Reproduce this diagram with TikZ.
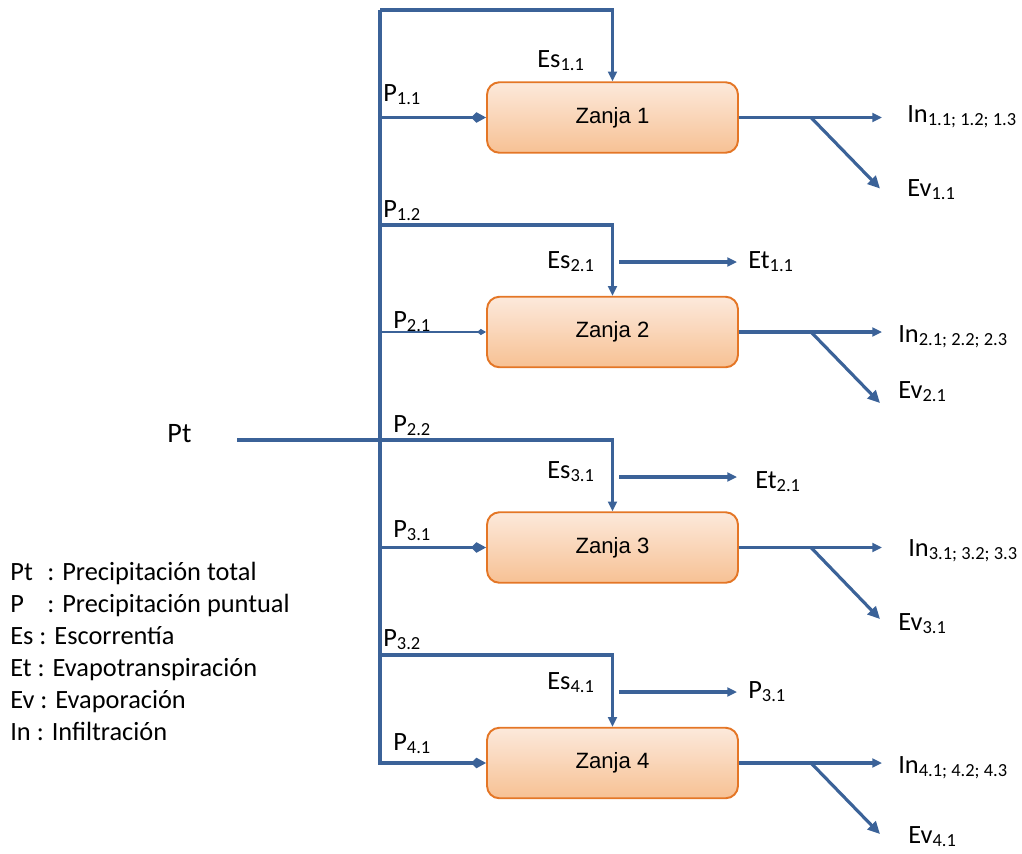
\documentclass[tikz,border=0pt]{standalone}
\usepackage{fontspec}
\usepackage{tikz}
\usetikzlibrary{arrows.meta,positioning}
\newfontfamily\labfont{Carlito}
\newfontfamily\boxfont{Liberation Sans}
\definecolor{flowblue}{RGB}{59,98,152}
\definecolor{zanjaedge}{RGB}{228,118,38}
\definecolor{zanjatop}{RGB}{252,233,219}
\definecolor{zanjabot}{RGB}{247,193,148}

\begin{document}
\begin{tikzpicture}[x=0.02cm,y=-0.02cm,
  zanja/.style={rectangle,rounded corners=7pt,draw=zanjaedge,line width=1.1pt,
                top color=zanjatop,bottom color=zanjabot,minimum width=5.02cm,
                minimum height=1.41cm,font=\boxfont\fontsize{12.6}{15}\selectfont},
  fl/.style={line width=1.8pt,flowblue},
  ar/.style={fl,-{Triangle[length=5.5pt,width=5pt]}},
  arev/.style={fl,-{Triangle[length=7pt,width=6.5pt]}},
  pin/.style={fl,-{Kite[length=8.5pt,width=6pt,inset=3pt]}},
  pinthin/.style={line width=0.9pt,flowblue,-{Kite[length=5pt,width=3.5pt,inset=2pt]}},
  lab/.style={font=\labfont\fontsize{15}{17}\selectfont,inner sep=0pt,anchor=base west}
]
\useasboundingbox (0,0) rectangle (1022,853);

% zanjas
\node[zanja] (z1) at (612.5,117.5) {Zanja 1};
\node[zanja] (z2) at (612.5,332)   {Zanja 2};
\node[zanja] (z3) at (612.5,547.5) {Zanja 3};
\node[zanja] (z4) at (612.5,763)   {Zanja 4};

% tronco de precipitacion
\coordinate (t0) at (380,10);
\coordinate (tb) at (380,765);
\coordinate (pt0) at (237,440);
\coordinate (e2) at (380,225);
\coordinate (e4) at (380,655);
\coordinate (p1) at (380,117.5);
\coordinate (p2) at (380,332);
\coordinate (p3) at (380,547.5);
\coordinate (p4) at (380,763);

\draw[fl] (t0) -- (tb);
\draw[ar] (t0) -| (z1.north);
\draw[ar] (e2) -| (z2.north);
\draw[ar] (pt0) -| (z3.north);
\draw[ar] (e4) -| (z4.north);

\draw[pin] (p1) -- (z1);
\draw[pinthin] (p2) -- (z2);
\draw[pin] (p3) -- (z3);
\draw[pin] (p4) -- (z4);

% salidas laterales (Et, P)
\coordinate (s2) at (619,262);   \coordinate (s2e) at (737,262);
\coordinate (s3) at (619,477);   \coordinate (s3e) at (737,477);
\coordinate (s4) at (619,692);   \coordinate (s4e) at (737,692);
\draw[ar] (s2) -- (s2e);
\draw[ar] (s3) -- (s3e);
\draw[ar] (s4) -- (s4e);

% infiltracion y evaporacion
\coordinate (in1) at (882,117.5); \coordinate (b1) at (811,117.5); \coordinate (ev1) at (880,188.5);
\coordinate (in2) at (882,332);   \coordinate (b2) at (811,332);   \coordinate (ev2) at (880,403);
\coordinate (in3) at (882,547.5); \coordinate (b3) at (811,547.5); \coordinate (ev3) at (880,619);
\coordinate (in4) at (882,763);   \coordinate (b4) at (811,763);   \coordinate (ev4) at (880,834);
\draw[ar] (z1.east) -- (in1);  \draw[arev] (b1) -- (ev1);
\draw[ar] (z2.east) -- (in2);  \draw[arev] (b2) -- (ev2);
\draw[ar] (z3.east) -- (in3);  \draw[arev] (b3) -- (ev3);
\draw[ar] (z4.east) -- (in4);  \draw[arev] (b4) -- (ev4);

% etiquetas
\node[lab,font=\labfont\fontsize{16}{18}\selectfont] (lpt) at (167,442) {Pt};
\node[lab] (lp11) at (383,101) {P\textsubscript{1.1}};
\node[lab] (lp12) at (383,217) {P\textsubscript{1.2}};
\node[lab] (lp21) at (393,328) {P\textsubscript{2.1}};
\node[lab] (lp22) at (393,432) {P\textsubscript{2.2}};
\node[lab] (lp31) at (393,537) {P\textsubscript{3.1}};
\node[lab] (lp32) at (383,646) {P\textsubscript{3.2}};
\node[lab] (lp41) at (393,750) {P\textsubscript{4.1}};

\node[lab] (les1) at (537,67)  {Es\textsubscript{1.1}};
\node[lab] (les2) at (547,268) {Es\textsubscript{2.1}};
\node[lab] (les3) at (547,478) {Es\textsubscript{3.1}};
\node[lab] (les4) at (547,689) {Es\textsubscript{4.1}};

\node[lab] (let1) at (748,268) {Et\textsubscript{1.1}};
\node[lab] (let2) at (755,488) {Et\textsubscript{2.1}};
\node[lab] (lpo3) at (748,698) {P\textsubscript{3.1}};

\node[lab] (lin1) at (907,122) {In\textsubscript{1.1; 1.2; 1.3}};
\node[lab] (lin2) at (898,342) {In\textsubscript{2.1; 2.2; 2.3}};
\node[lab] (lin3) at (908,556) {In\textsubscript{3.1; 3.2; 3.3}};
\node[lab] (lin4) at (898,773) {In\textsubscript{4.1; 4.2; 4.3}};

\node[lab] (lev1) at (907,196) {Ev\textsubscript{1.1}};
\node[lab] (lev2) at (898,398) {Ev\textsubscript{2.1}};
\node[lab] (lev3) at (898,630) {Ev\textsubscript{3.1}};
\node[lab] (lev4) at (908,843) {Ev\textsubscript{4.1}};

% leyenda
\node[lab] (ley1) at (10,580) {\makebox[0.74cm][l]{Pt}: Precipitación total};
\node[lab] (ley2) at (10,612) {\makebox[0.74cm][l]{P}: Precipitación puntual};
\node[lab] (ley3) at (10,644) {Es : Escorrentía};
\node[lab] (ley4) at (10,676) {Et : Evapotranspiración};
\node[lab] (ley5) at (10,708) {Ev : Evaporación};
\node[lab] (ley6) at (10,740) {In : Infiltración};
\end{tikzpicture}
\end{document}
